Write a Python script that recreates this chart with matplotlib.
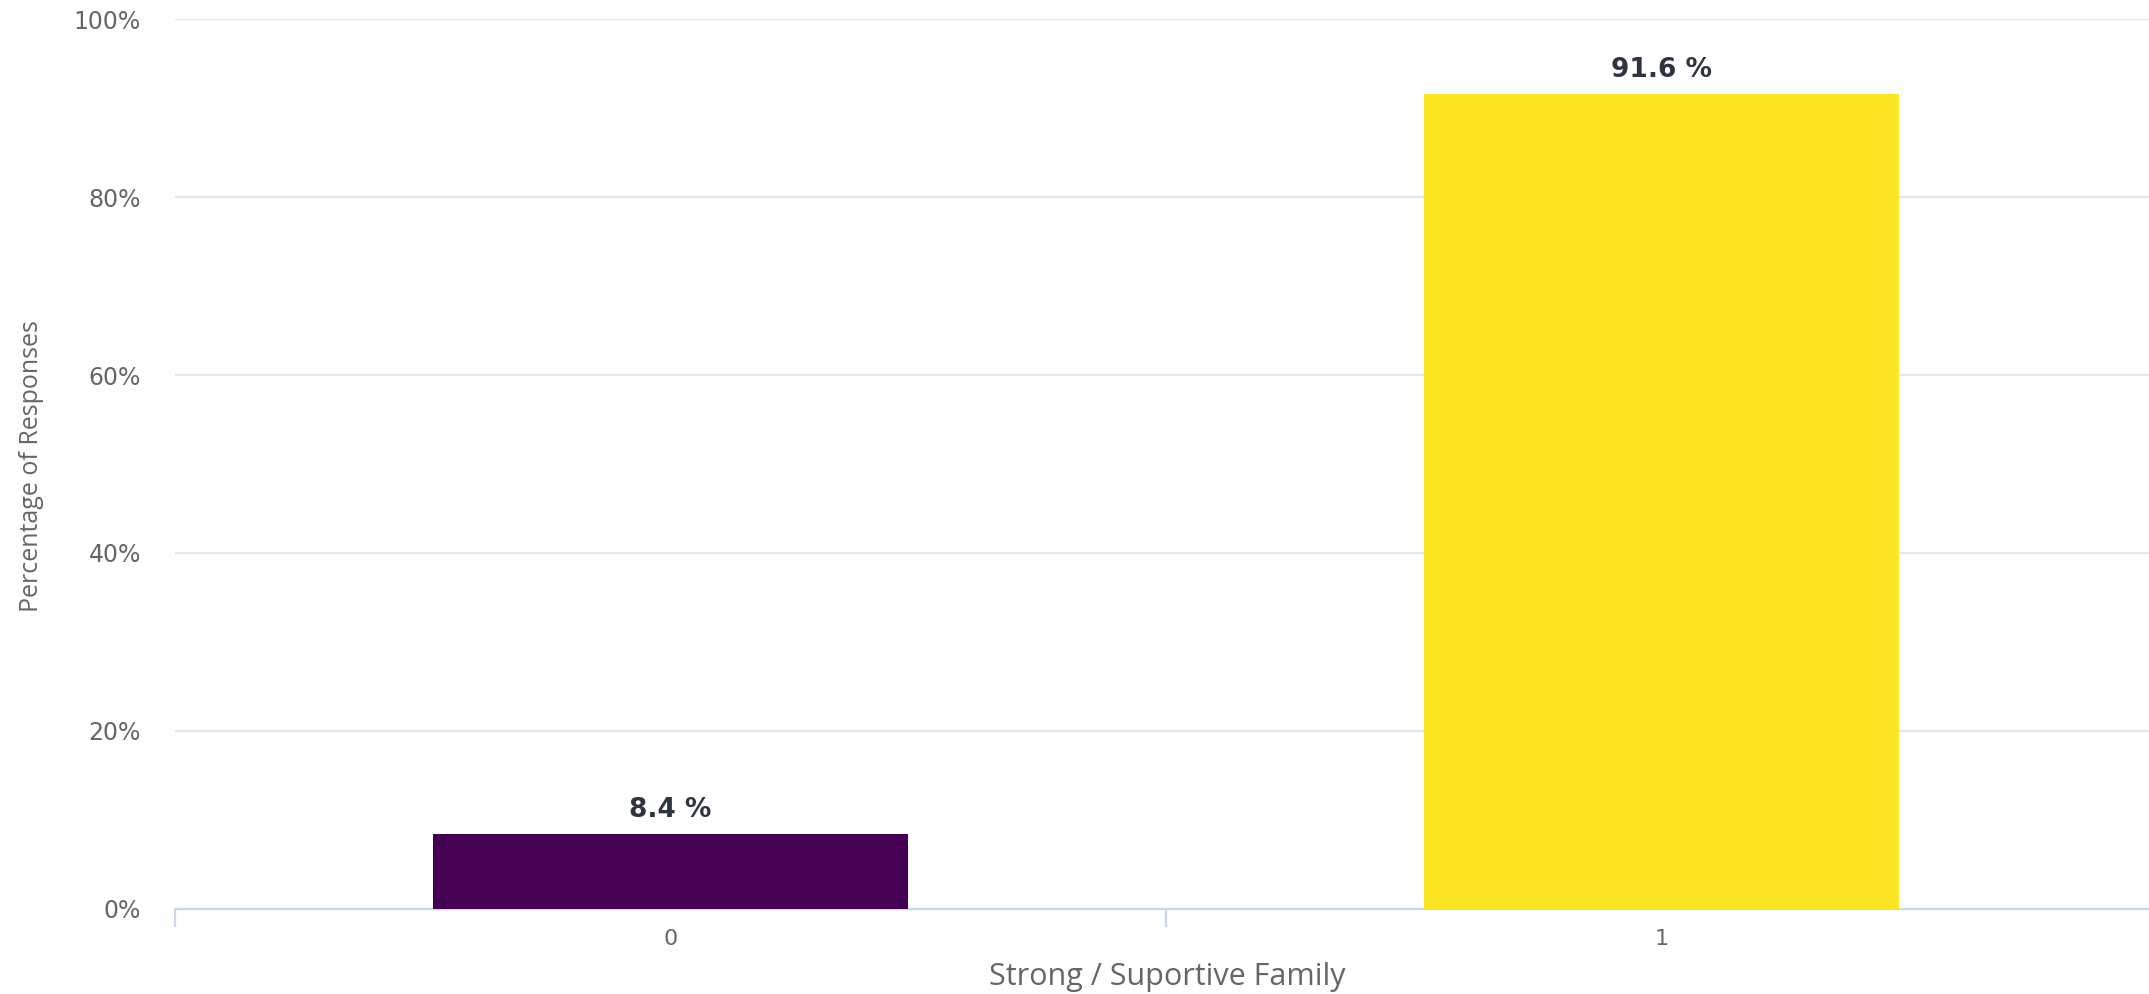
import matplotlib
matplotlib.use("Agg")
import matplotlib.pyplot as plt
from matplotlib.ticker import FixedLocator, FuncFormatter

categories = ["0", "1"]
percentages = [8.4, 91.6]
bar_colors = ["#440154", "#fde725"]
y_ticks = [0, 20, 40, 60, 80, 100]
x_title = "Strong / Suportive Family"
y_title = "Percentage of Responses"

W, H, DPI = 2149, 994, 100
PT = 72 / DPI  # points per pixel
fig = plt.figure(figsize=(W / DPI, H / DPI), dpi=DPI)
left, right, bottom, top = 175, 2157, 909, 19
ax = fig.add_axes([left / W, (H - bottom) / H, (right - left) / W, (bottom - top) / H])

x = list(range(len(categories)))
ax.bar(x, percentages, width=0.48, color=bar_colors, zorder=3)

for xi, v in zip(x, percentages):
    ax.annotate(f"{v:.1f} %", (xi, v), xytext=(0, 17), textcoords="offset pixels",
                ha="center", va="baseline", fontsize=19, fontweight="bold",
                color="#2e3440", family="DejaVu Sans", zorder=4)

ax.set_xlim(-0.5, len(categories) - 0.5)
ax.set_ylim(0, 100)

ax.yaxis.set_major_locator(FixedLocator(y_ticks))
ax.yaxis.set_major_formatter(FuncFormatter(lambda v, p: f"{v:.0f}%"))
ax.grid(axis="y", color="#e6e6e6", linewidth=1.6, zorder=0)
ax.tick_params(axis="y", length=0, pad=34 * PT, labelsize=17, labelcolor="#666666")
for lbl in ax.get_yticklabels():
    lbl.set_family("DejaVu Sans")

ax.set_xticks(x)
ax.set_xticklabels(categories, family="DejaVu Sans")
ax.set_xticks([i - 0.5 for i in range(len(categories) + 1)], minor=True)
ax.tick_params(axis="x", which="major", length=0, pad=20 * PT, labelsize=16, labelcolor="#666666")
ax.tick_params(axis="x", which="minor", length=13, width=1.6, color="#ccd6eb")

for s in ["top", "right", "left"]:
    ax.spines[s].set_visible(False)
ax.spines["bottom"].set_color("#ccd6eb")
ax.spines["bottom"].set_linewidth(1.6)

fig.text(1167 / W, 1 - 985 / H, x_title, ha="center", va="baseline",
         fontsize=22, color="#666666", family="Open Sans")
fig.text(32 / W, 1 - 466 / H, y_title, rotation=90, ha="center", va="center",
         fontsize=18, color="#666666", family="Open Sans")

fig.savefig("out.png", dpi=DPI)
